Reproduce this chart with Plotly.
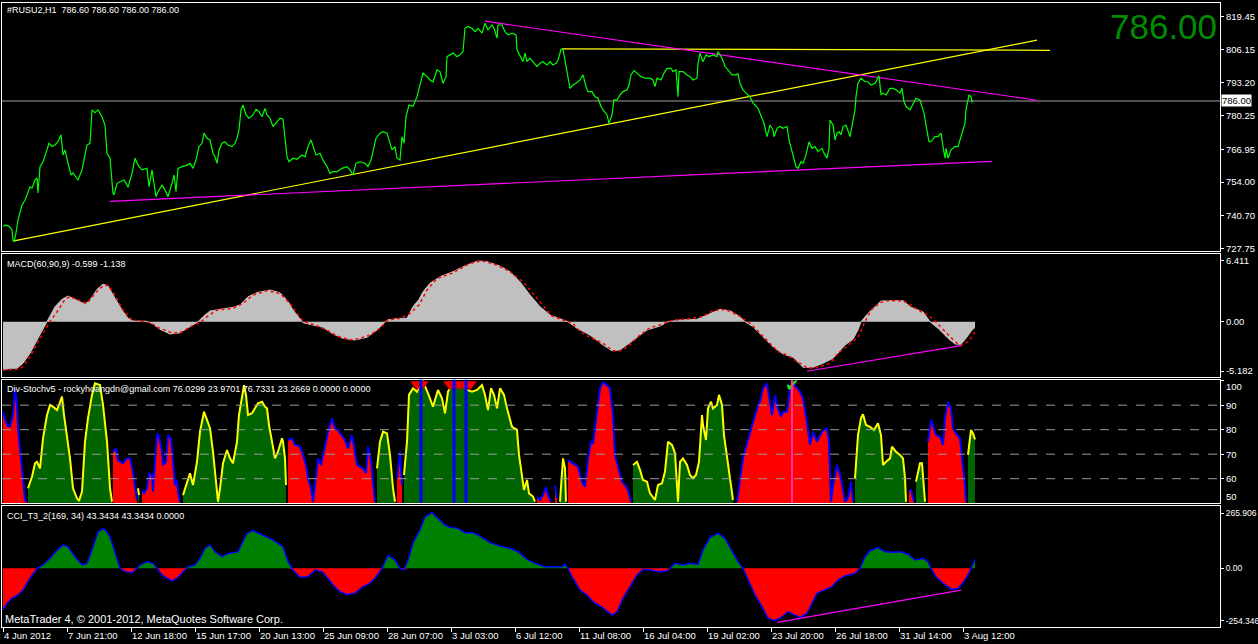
import plotly.graph_objects as go

# ---------------- DATA ----------------
# x = bar index (H1 bars), price chart close line
PRICE_BAR = [
    0, 2, 6, 9, 10, 11, 13, 15, 19, 22,
    24, 27, 29, 32, 34, 35, 37, 40, 44, 46,
    49, 52, 55, 58, 60, 62, 65, 68, 70, 73,
    75, 79, 81, 84, 87, 89, 92, 95, 99, 102,
    104, 107, 110, 111, 114, 117, 121, 124, 125, 129,
    132, 135, 139, 144, 146, 149, 151, 153, 155, 159,
    162, 165, 169, 171, 173, 175, 179, 184, 187, 190,
    193, 196, 199, 201, 204, 207, 210, 212, 214, 216,
    219, 222, 225, 229, 232, 234, 236, 238, 240, 243,
    246, 250, 253, 256, 259, 262, 264, 267, 270, 274,
    277, 280, 282, 284, 286, 290, 294, 299, 302, 305,
    308, 310, 313, 317, 320, 324, 327, 330, 334, 339,
    344, 347, 350, 353, 357, 362, 365, 368, 370, 373,
    377, 380, 384, 386, 389, 392, 394, 397, 399, 401,
    403, 406, 410, 414, 416, 417, 420, 424, 427, 430,
    434, 437, 440, 443, 444, 447, 450, 454, 457, 460,
    462, 465, 469, 472, 475, 479, 482, 485, 489, 491,
    494, 495, 499, 502, 505, 509, 513, 514, 517, 520,
    522, 524, 527, 530, 534, 537, 540, 544, 547, 550,
    553, 555, 558, 560, 563, 565, 567, 570, 573, 577,
    580, 583, 585, 589, 592, 595, 598, 600, 604, 606,
    609, 611, 614, 617, 620, 624, 626, 628, 631, 634,
    638, 642, 647, 650, 652, 654, 658, 661, 664, 668,
    670, 673, 675, 676, 680, 684, 687, 690, 694, 695,
    697, 700, 703, 706, 710, 714, 715, 719, 722, 725,
    729, 733, 735, 737, 740, 743, 747, 750, 755, 759,
    761, 764, 767, 770, 771, 774, 777, 780, 784, 786,
    789, 791, 793, 795, 798, 800, 803, 806, 809, 812,
    815, 819, 821, 824, 826, 827, 830, 832, 834, 836,
    838, 840, 843, 847, 849, 852, 853, 855, 858, 862,
    865, 868, 872, 874, 876, 878, 880, 883, 887, 890,
    893, 897, 899, 901, 903, 907, 910, 913, 917, 919,
    921, 923, 926, 928, 932, 935, 938, 940, 942, 943,
    945, 948, 952, 955, 957, 959, 962, 963, 966, 968,
    969, 970,
]
PRICE_CLOSE = [
    736.4, 737.0, 736.6, 735.1, 731.1, 730.4, 733.9, 739.0, 744.9, 746.9,
    748.9, 752.2, 751.6, 754.8, 755.6, 749.7, 760.1, 762.0, 766.7, 769.4,
    768.0, 768.6, 769.9, 772.6, 764.7, 766.7, 761.5, 756.8, 757.6, 756.1,
    754.8, 758.8, 762.7, 768.6, 769.3, 782.5, 781.4, 782.5, 779.8, 776.5,
    765.3, 763.4, 749.5, 748.9, 753.5, 754.1, 754.8, 752.8, 751.9, 757.4,
    763.4, 760.7, 758.8, 759.4, 752.2, 758.8, 753.5, 748.2, 750.2, 752.8,
    750.9, 748.2, 753.5, 756.8, 750.2, 759.4, 760.1, 760.7, 761.4, 759.4,
    762.7, 768.0, 769.3, 773.3, 771.3, 770.6, 765.4, 764.0, 761.4, 766.7,
    769.3, 769.9, 768.6, 768.0, 769.3, 771.3, 774.6, 782.5, 784.4, 780.5,
    779.2, 780.5, 782.7, 781.8, 779.8, 783.1, 780.5, 779.2, 775.9, 777.8,
    779.2, 778.8, 771.9, 764.0, 762.0, 763.4, 763.0, 764.7, 764.0, 768.0,
    770.6, 768.0, 764.7, 765.4, 762.7, 760.1, 757.4, 758.1, 758.1, 759.4,
    760.1, 758.8, 756.8, 761.4, 762.0, 761.4, 760.1, 762.7, 766.7, 771.3,
    773.3, 773.9, 773.3, 770.6, 766.7, 768.0, 763.4, 762.7, 771.9, 769.3,
    779.8, 784.4, 783.8, 787.7, 791.0, 791.7, 797.0, 795.6, 794.3, 793.6,
    798.3, 797.6, 793.0, 795.6, 803.5, 804.2, 804.9, 803.5, 804.2, 805.5,
    814.7, 815.4, 814.7, 813.4, 814.7, 812.8, 816.7, 814.1, 816.0, 814.7,
    810.8, 816.0, 816.0, 813.4, 812.1, 812.8, 812.1, 806.2, 803.5, 801.5,
    804.9, 801.5, 802.9, 801.5, 799.6, 800.9, 801.5, 800.2, 801.5, 800.2,
    800.9, 802.2, 806.4, 806.4, 799.6, 794.3, 791.0, 792.3, 793.0, 794.3,
    796.3, 791.7, 789.7, 789.7, 787.7, 787.1, 783.8, 782.5, 780.5, 777.2,
    780.5, 786.4, 786.4, 788.4, 789.7, 790.4, 792.3, 796.3, 798.0, 797.0,
    795.6, 795.0, 795.0, 794.3, 791.7, 795.0, 794.3, 797.0, 798.9, 798.9,
    797.6, 798.3, 787.7, 797.6, 797.6, 796.3, 795.6, 794.3, 795.0, 800.9,
    804.9, 801.5, 804.2, 803.5, 804.2, 803.5, 805.5, 802.9, 799.6, 798.3,
    796.3, 796.3, 796.7, 793.0, 790.4, 789.1, 787.7, 785.1, 783.1, 779.2,
    777.2, 771.9, 776.5, 774.6, 771.9, 775.2, 775.9, 775.2, 775.9, 770.6,
    766.0, 764.0, 760.1, 759.4, 762.0, 761.4, 764.7, 769.9, 767.3, 768.0,
    766.0, 767.3, 765.4, 763.4, 767.3, 778.5, 776.5, 770.6, 773.3, 773.9,
    772.6, 775.9, 776.5, 771.9, 775.9, 782.5, 787.7, 793.0, 795.0, 793.6,
    793.6, 792.3, 793.0, 794.3, 795.9, 788.4, 789.1, 788.4, 791.0, 791.0,
    790.4, 789.1, 791.0, 785.7, 783.8, 782.5, 785.1, 787.1, 786.4, 783.8,
    781.2, 776.5, 769.9, 769.9, 771.9, 771.9, 773.3, 768.0, 763.4, 767.3,
    763.4, 766.7, 768.0, 768.0, 770.6, 773.9, 777.2, 782.5, 788.4, 787.7,
    785.7, 786.0,
]
LAST_PRICE = 786.00

# trend lines drawn on the price chart (bar, price) endpoints
TREND_START_BAR = [11, 559, 482, 107]
TREND_START_PRICE = [730.8, 806.6, 817.5, 746.4]
TREND_END_BAR = [1034, 1047, 1034, 989]
TREND_END_PRICE = [810.0, 806.0, 786.3, 762.2]

PRICE_TICKS = [819.45, 806.15, 793.20, 780.25, 766.95, 754.00, 740.70, 727.75]

# MACD(60,90,9)
MACD_BAR = [
    0, 7, 14, 20, 27, 34, 40, 44, 47, 52,
    59, 65, 72, 82, 87, 94, 100, 105, 112, 119,
    125, 130, 144, 150, 157, 167, 177, 187, 195, 200,
    207, 217, 230, 237, 245, 255, 267, 277, 284, 290,
    297, 300, 310, 320, 330, 340, 352, 364, 374, 384,
    397, 404, 410, 416, 420, 427, 437, 450, 464, 475,
    484, 497, 507, 517, 527, 537, 547, 557, 565, 574,
    587, 600, 609, 617, 630, 644, 657, 665, 677, 694,
    704, 717, 727, 737, 742, 750, 760, 770, 780, 790,
    800, 810, 820, 830, 835, 842, 850, 855, 858, 865,
    872, 878, 892, 900, 908, 920, 927, 935, 945, 952,
    958, 963, 969, 972,
]
MACD_MAIN = [
    -5.08, -4.9, -4.9, -4.37, -3.32, -1.92, -0.69, 0, 0.70, 1.58,
    2.35, 2.70, 2.35, 1.83, 2.28, 3.40, 3.96, 3.75, 2.46, 1.23,
    0.36, 0.07, 0.05, -0.24, -0.80, -1.29, -1.16, -0.53, 0, 0.53,
    1.12, 1.30, 1.51, 1.76, 2.63, 3.09, 3.33, 3.05, 2.28, 1.23,
    0.25, -0.1, -0.35, -0.59, -1.29, -1.75, -1.92, -1.64, -0.87, 0.18,
    0.36, 0.36, 1.58, 2.35, 3.15, 4.04, 4.73, 5.26, 5.96, 6.38,
    6.31, 5.85, 5.26, 4.20, 2.81, 1.58, 0.70, 0.28, 0, -0.69,
    -1.40, -2.45, -3.05, -2.97, -1.92, -0.87, -0.45, 0, 0.18, 0.25,
    0.70, 1.30, 1.16, 0.53, 0, -0.53, -1.58, -2.63, -3.39, -3.74,
    -4.79, -4.79, -4.37, -3.85, -3.3, -2.45, -1.85, -0.87, 0, 0.88,
    1.58, 2.18, 2.21, 2.21, 1.51, 1.05, 0, -0.69, -1.75, -2.34,
    -2.38, -1.75, -0.87, -0.60,
]
SIGNAL_BAR = [
    0, 14, 20, 27, 35, 42, 47, 54, 62, 67,
    75, 84, 92, 99, 105, 112, 120, 129, 137, 147,
    157, 170, 179, 189, 197, 204, 214, 230, 240, 250,
    264, 277, 287, 294, 300, 312, 324, 334, 347, 357,
    367, 377, 385, 397, 407, 416, 424, 434, 449, 467,
    479, 494, 507, 520, 530, 540, 549, 560, 569, 577,
    587, 599, 610, 617, 625, 635, 647, 660, 670, 684,
    699, 710, 722, 735, 747, 754, 764, 775, 784, 794,
    805, 817, 827, 835, 848, 855, 862, 868, 877, 885,
    900, 907, 915, 925, 932, 942, 952, 958, 965, 972,
]
MACD_SIGNAL = [
    -5.08, -5.0, -4.73, -3.68, -2.10, -0.87, 0, 1.05, 2.35, 2.63,
    2.28, 1.93, 2.98, 3.68, 3.86, 2.81, 1.23, 0.18, 0.07, -0.1,
    -0.69, -1.22, -1.05, -0.45, -0.1, 0.53, 1.23, 1.41, 1.93, 2.81,
    3.26, 2.98, 1.93, 0.88, 0.07, -0.35, -0.87, -1.50, -1.92, -1.75,
    -1.40, -0.69, 0.18, 0.36, 0.88, 1.76, 3.33, 4.56, 5.09, 6.14,
    6.41, 5.96, 5.26, 4.20, 2.98, 1.76, 0.60, 0.18, -0.1, -1.05,
    -1.64, -2.21, -3.05, -3.05, -2.63, -1.58, -0.63, -0.24, 0.18, 0.28,
    0.53, 1.16, 1.30, 0.70, -0.17, -0.87, -2.00, -3.15, -3.50, -4.20,
    -4.90, -4.73, -4.37, -3.32, -2.27, -1.64, 0, 1.23, 2.0, 2.21,
    2.21, 1.83, 1.23, 0.70, 0.07, -1.05, -2.10, -2.52, -2.10, -1.14,
]
MACD_DIV_BAR = [804, 958]
MACD_DIV_VAL = [-5.21, -2.52]
MACD_TICKS = [6.411, 0.0, -5.182]
MACD_TICK_TEXT = ["6.411", "0.00", "-5.182"]

# Div-Stochv5 : value and state (G = rising/green, R = falling/red)
STO_BAR = [
    0, 4, 7, 10, 12, 14, 15, 18, 20, 22,
    24, 25, 29, 32, 34, 37, 40, 44, 47, 50,
    54, 56, 59, 61, 64, 67, 70, 74, 76, 79,
    82, 85, 89, 92, 97, 100, 104, 107, 109, 110,
    113, 115, 120, 124, 127, 130, 132, 134, 135, 136,
    139, 141, 144, 146, 149, 150, 152, 154, 156, 159,
    160, 163, 165, 168, 170, 172, 174, 175, 177, 180,
    184, 187, 190, 194, 197, 201, 204, 207, 210, 212,
    214, 215, 217, 220, 224, 227, 230, 234, 236, 239,
    241, 243, 245, 249, 252, 255, 259, 262, 264, 266,
    269, 272, 275, 279, 280, 282, 283, 285, 289, 292,
    297, 300, 303, 305, 308, 310, 312, 315, 318, 320,
    323, 326, 329, 332, 335, 339, 342, 345, 349, 352,
    354, 357, 360, 363, 365, 368, 370, 372, 374, 377,
    380, 384, 387, 390, 392, 394, 397, 399, 401, 404,
    406, 410, 414, 417, 420, 425, 430, 435, 439, 442,
    445, 449, 452, 457, 464, 469, 474, 479, 482, 485,
    488, 491, 494, 497, 501, 504, 509, 514, 516, 519,
    521, 524, 526, 530, 532, 534, 537, 540, 543, 545,
    548, 549, 552, 554, 557, 560, 562, 563, 565, 570,
    575, 579, 582, 585, 588, 590, 594, 597, 600, 604,
    607, 610, 612, 615, 619, 622, 625, 628, 630, 634,
    637, 640, 644, 647, 652, 655, 659, 662, 665, 669,
    672, 674, 675, 677, 680, 684, 687, 690, 693, 696,
    699, 700, 703, 705, 708, 710, 714, 716, 719, 721,
    724, 727, 730, 734, 737, 740, 744, 749, 754, 757,
    760, 764, 767, 769, 772, 775, 778, 780, 784, 787,
    790, 793, 797, 800, 804, 807, 810, 814, 817, 821,
    824, 826, 828, 830, 834, 838, 840, 842, 845, 848,
    850, 852, 855, 858, 860, 863, 867, 871, 875, 878,
    880, 883, 887, 889, 893, 897, 900, 902, 903, 906,
    908, 911, 913, 917, 919, 921, 922, 925, 928, 930,
    933, 937, 940, 942, 945, 948, 950, 953, 957, 959,
    962, 963, 965, 968, 970, 972,
]
STO_VALUE = [
    87.3, 81.9, 81.2, 86.0, 96.9, 90.1, 80.6, 68.3, 57.4, 51.3,
    50.6, 56.1, 60.8, 66.3, 66.9, 64.2, 76.5, 86.0, 90.1, 89.4,
    88.0, 90.1, 93.5, 86.0, 77.8, 68.3, 56.1, 52.0, 50.9, 54.7,
    75.1, 84.7, 94.2, 98.9, 98.2, 90.1, 75.1, 56.1, 50.6, 71.0,
    72.4, 67.6, 66.3, 68.3, 68.3, 62.9, 56.1, 51.3, 56.1, 53.3,
    55.4, 54.0, 56.1, 62.2, 61.5, 54.7, 66.9, 78.5, 77.1, 71.0,
    65.6, 66.9, 77.8, 76.5, 67.6, 57.4, 59.5, 54.7, 50.6, 53.3,
    58.8, 62.2, 57.4, 66.9, 79.2, 87.3, 84.0, 80.6, 71.0, 61.5,
    52.0, 50.6, 56.1, 66.3, 71.7, 68.3, 66.3, 75.1, 86.0, 94.2,
    98.2, 94.2, 86.0, 86.7, 88.7, 90.8, 91.4, 89.4, 88.7, 81.9,
    75.1, 68.3, 71.0, 76.5, 75.1, 68.3, 57.4, 75.8, 76.5, 73.8,
    73.1, 69.7, 65.6, 60.2, 56.1, 50.6, 57.4, 68.3, 65.6, 69.7,
    75.1, 80.6, 84.7, 80.6, 79.9, 77.8, 75.8, 72.4, 77.8, 71.0,
    65.6, 64.9, 64.2, 62.2, 73.1, 67.6, 58.8, 50.6, 64.2, 75.1,
    79.2, 78.5, 69.7, 56.1, 50.6, 60.2, 71.0, 57.4, 61.5, 75.1,
    94.2, 96.9, 95.5, 98.9, 99.6, 94.9, 89.4, 96.2, 92.8, 86.7,
    95.5, 98.2, 98.2, 98.9, 96.2, 95.5, 96.2, 98.2, 94.2, 88.0,
    96.9, 94.2, 88.7, 96.9, 94.2, 88.7, 81.2, 79.9, 69.7, 60.2,
    55.4, 59.5, 54.0, 52.7, 50.6, 52.7, 51.3, 53.3, 56.7, 53.3,
    50.6, 52.7, 57.4, 52.0, 50.6, 68.3, 64.2, 50.6, 67.6, 66.3,
    64.9, 58.8, 56.7, 68.3, 75.1, 74.5, 87.3, 96.9, 99.3, 98.2,
    96.9, 86.0, 69.7, 64.9, 58.8, 57.4, 55.4, 50.6, 65.6, 66.9,
    63.6, 59.5, 58.8, 54.0, 51.3, 57.4, 58.1, 62.9, 75.1, 73.8,
    70.4, 57.4, 50.6, 66.9, 68.3, 65.6, 61.5, 60.2, 61.5, 66.9,
    86.0, 81.9, 75.8, 88.7, 91.4, 88.7, 90.1, 94.2, 90.1, 77.8,
    68.3, 58.8, 51.3, 50.6, 58.8, 68.3, 74.5, 81.9, 88.7, 91.4,
    96.9, 98.9, 91.4, 86.0, 94.2, 88.7, 85.3, 87.3, 87.3, 96.9,
    98.9, 97.6, 95.5, 92.8, 83.3, 73.8, 79.2, 75.1, 77.8, 79.9,
    80.6, 75.1, 50.6, 57.4, 65.6, 60.2, 54.7, 50.6, 52.0, 58.8,
    50.6, 60.2, 77.8, 84.7, 86.3, 81.9, 81.2, 79.9, 82.6, 77.8,
    65.6, 66.9, 68.3, 73.1, 71.0, 69.7, 68.3, 60.2, 50.6, 55.4,
    55.4, 50.6, 58.8, 66.3, 66.3, 57.4, 50.6, 75.1, 84.0, 81.9,
    77.8, 77.1, 73.8, 84.7, 91.4, 88.7, 80.6, 78.5, 76.5, 68.3,
    57.4, 50.6, 69.7, 79.9, 78.5, 76.0,
]
STO_STATE = (
    "RRRRRRRRRR" "RGGGGGGGGG" "GGGGGGGGGG" "GGGGGGGGGR" "RRRRRRRRGG"
    "RRRRRRRRRR" "RRRRRRRRRG" "GGGGGGGGGG" "GGGGGGGGGG" "GGGGGGGGGG"
    "GGGGGGGRRR" "RRRRRRRRRR" "RRRRRRRRRR" "RRRRRRRRGG" "GGGGGRRRGG"
    "GGGGGGGGGG" "GGGGGGGGGG" "GGGGGGGGGG" "GGGGGRRRRR" "RGRRGGGGRR"
    "RRRRRRRRRR" "RRRRRRRRGG" "GGGGGGGGGG" "GGGGGGGGGG" "GGGGGGGGGG"
    "GGGRRRRRRR" "RRRRRRRRRR" "RRRRRRRRRR" "RRRRRRRRRR" "RGGGGGGGGG"
    "GGGGGGGGGR" "RRGGGGGRRR" "RRRRRRRRRR" "RRGGGG"
)
STO_LEVELS = [60, 70, 80, 90]
STO_TICKS = [100, 90, 80, 70, 60, 50]
STO_BLUE_BARS = [418, 451, 463]
STO_PINK_BARS = [789]
STO_ARROW_BAR = [414, 419, 447, 452, 457, 462, 467]
STO_ARROW_VAL = [98.5, 98.5, 98.5, 98.5, 98.5, 98.5, 98.5]
STO_CHECK_BAR = [789]
STO_CHECK_VAL = [97.5]

# CCI_T3_2(169,34)
CCI_BAR = [
    0, 4, 9, 15, 20, 27, 34, 40, 47, 54,
    60, 65, 72, 79, 84, 89, 95, 101, 107, 112,
    117, 122, 129, 134, 137, 144, 150, 154, 159, 164,
    169, 174, 180, 185, 192, 197, 202, 207, 212, 219,
    225, 235, 239, 244, 250, 260, 270, 280, 285, 290,
    297, 305, 312, 319, 325, 330, 337, 344, 352, 359,
    367, 372, 379, 385, 392, 397, 401, 405, 410, 416,
    417, 422, 429, 435, 442, 447, 455, 462, 470, 477,
    487, 497, 507, 515, 524, 532, 542, 554, 559, 562,
    565, 570, 577, 584, 590, 599, 609, 614, 620, 627,
    634, 640, 647, 657, 664, 667, 672, 680, 687, 695,
    700, 707, 715, 722, 729, 735, 740, 745, 752, 759,
    765, 772, 779, 785, 792, 797, 804, 809, 814, 820,
    829, 835, 842, 852, 857, 862, 867, 875, 882, 890,
    898, 905, 912, 920, 925, 928, 933, 940, 948, 955,
    960, 965, 968, 972,
]
CCI_VALUE = [
    -201, -169, -145, -129, -105, -48, 0, 16, 48, 88,
    113, 104, 56, 16, 24, 88, 177, 193, 153, 72,
    0, -16, -21, 0, 16, 32, 24, 0, -32, -48,
    -61, -48, -16, 8, 16, 48, 97, 113, 80, 56,
    72, 80, 121, 169, 182, 161, 137, 104, 32, -8,
    -43, -41, -8, -16, -48, -81, -113, -126, -121, -92,
    -72, -48, 0, 64, 40, 0, -8, 40, 121, 177,
    185, 249, 269, 241, 209, 198, 193, 172, 172, 156,
    124, 108, 97, 80, 43, 24, 8, 8, 8, 19,
    0, -48, -105, -129, -161, -188, -226, -210, -145, -89,
    -32, -5, -8, -16, -12, 0, 24, 16, 24, 19,
    88, 150, 169, 145, 80, 32, 0, -56, -129, -185,
    -241, -253, -234, -210, -226, -237, -217, -169, -121, -108,
    -89, -56, -37, -24, 0, 56, 85, 100, 80, 77,
    80, 68, 40, 48, 32, 0, -41, -72, -101, -97,
    -70, -32, 0, 43,
]
CCI_DIV_BAR = [774, 958]
CCI_DIV_VAL = [-261, -105]
CCI_TICKS = [265.906, 0.0, -254.346]
CCI_TICK_TEXT = ["265.906", "0.00", "-254.346"]

X_TICK_BARS = [0, 64, 128, 192, 256, 320, 384, 448, 512, 576, 640, 704, 768, 832, 896, 960]
X_TICK_LABELS = ["4 Jun 2012", "7 Jun 21:00", "12 Jun 18:00", "15 Jun 17:00", "20 Jun 13:00",
                 "25 Jun 09:00", "28 Jun 07:00", "3 Jul 03:00", "6 Jul 12:00", "11 Jul 08:00",
                 "16 Jul 04:00", "19 Jul 02:00", "23 Jul 20:00", "26 Jul 18:00", "31 Jul 14:00",
                 "3 Aug 12:00"]

PRICE_HEADER = "#RUSU2,H1\u00a0\u00a0786.60 786.60 786.00 786.00"
MACD_HEADER = "MACD(60,90,9) -0.599 -1.138"
STO_HEADER = "Div-Stochv5 - rockyhoangdn@gmail.com 76.0299 23.9701 76.7331 23.2669 0.0000 0.0000"
CCI_HEADER = "CCI_T3_2(169, 34) 43.3434 43.3434 0.0000"
COPYRIGHT = "MetaTrader 4, \u00a9 2001-2012, MetaQuotes Software Corp."

# ---------------- STYLE / LAYOUT ----------------
W, H = 1258, 644
FONT = "Liberation Sans"
TXT = "#FFFFFF"
XL, XR = 2, 1220
PANELS = [(2.7, 250.7), (254.0, 376.7), (379.7, 503.0), (505.7, 627.0)]
RANGES = [[726.9, 824.8], [-5.78, 7.12], [50.08, 100.4], [-283.5, 302.4]]
TREND_COLORS = ["#FFFF00", "#FFFF00", "#FF00FF", "#FF00FF"]


def ydom(t, b):
    return [1 - b / H, 1 - t / H]


fig = go.Figure()

# --- price panel ---
for i in range(len(TREND_START_BAR)):
    fig.add_trace(go.Scatter(x=[TREND_START_BAR[i], TREND_END_BAR[i]],
                             y=[TREND_START_PRICE[i], TREND_END_PRICE[i]],
                             mode="lines", line=dict(color=TREND_COLORS[i], width=1.2),
                             xaxis="x", yaxis="y", hoverinfo="skip"))
fig.add_trace(go.Scatter(x=PRICE_BAR, y=PRICE_CLOSE, mode="lines",
                         line=dict(color="#00FF00", width=1.2), xaxis="x", yaxis="y"))

# --- MACD panel ---
fig.add_trace(go.Scatter(x=MACD_BAR, y=MACD_MAIN, mode="lines", fill="tozeroy",
                         fillcolor="#C0C0C0", line=dict(color="#C0C0C0", width=1),
                         xaxis="x2", yaxis="y2"))
fig.add_trace(go.Scatter(x=SIGNAL_BAR, y=MACD_SIGNAL, mode="lines",
                         line=dict(color="#FF0000", width=1.5, dash="dot"),
                         xaxis="x2", yaxis="y2"))
fig.add_trace(go.Scatter(x=MACD_DIV_BAR, y=MACD_DIV_VAL, mode="lines",
                         line=dict(color="#FF00FF", width=1.2), xaxis="x2", yaxis="y2"))

# --- Stochastic panel ---
start = 0
n = len(STO_STATE)
for i in range(1, n + 1):
    if i == n or STO_STATE[i] != STO_STATE[start]:
        kind = STO_STATE[start]
        fig.add_trace(go.Scatter(
            x=STO_BAR[start:i], y=STO_VALUE[start:i], mode="lines", fill="tozeroy",
            fillcolor="#006400" if kind == "G" else "#FF0000",
            line=dict(color="#FFFF00" if kind == "G" else "#0000FF", width=2),
            xaxis="x3", yaxis="y3"))
        start = i
fig.add_trace(go.Scatter(x=STO_ARROW_BAR, y=STO_ARROW_VAL, mode="markers",
                         marker=dict(symbol="triangle-down", size=11, color="#FF0000",
                                     line=dict(color="#C00000", width=1)),
                         xaxis="x3", yaxis="y3"))
fig.add_trace(go.Scatter(x=STO_CHECK_BAR, y=STO_CHECK_VAL, mode="text", text=["\u2714"],
                         textfont=dict(color="#22DD22", size=17, family="DejaVu Sans"),
                         xaxis="x3", yaxis="y3"))

# --- CCI panel ---
fig.add_trace(go.Scatter(x=CCI_BAR, y=[max(v, 0) for v in CCI_VALUE], mode="lines",
                         fill="tozeroy", fillcolor="#008000", line=dict(width=0),
                         xaxis="x4", yaxis="y4"))
fig.add_trace(go.Scatter(x=CCI_BAR, y=[min(v, 0) for v in CCI_VALUE], mode="lines",
                         fill="tozeroy", fillcolor="#FF0000", line=dict(width=0),
                         xaxis="x4", yaxis="y4"))
fig.add_trace(go.Scatter(x=CCI_BAR, y=CCI_VALUE, mode="lines",
                         line=dict(color="#0000FF", width=1.5), xaxis="x4", yaxis="y4"))
fig.add_trace(go.Scatter(x=CCI_DIV_BAR, y=CCI_DIV_VAL, mode="lines",
                         line=dict(color="#FF00FF", width=1.2), xaxis="x4", yaxis="y4"))

# shapes
shapes = [dict(type="line", xref="x domain", x0=0, x1=1, yref="y", y0=LAST_PRICE, y1=LAST_PRICE,
               line=dict(color="#A0A0A0", width=1), layer="below")]
for lv in STO_LEVELS:
    shapes.append(dict(type="line", xref="x3 domain", x0=0, x1=1, yref="y3", y0=lv, y1=lv,
                       line=dict(color="#9A9A9A", width=1, dash="dash"), layer="above"))
for b in STO_BLUE_BARS:
    shapes.append(dict(type="line", xref="x3", x0=b, x1=b, yref="y3 domain", y0=0, y1=1,
                       line=dict(color="#0000FF", width=3)))
for b in STO_PINK_BARS:
    shapes.append(dict(type="line", xref="x3", x0=b, x1=b, yref="y3 domain", y0=0, y1=1,
                       line=dict(color="#FF3399", width=2)))

tickfont = dict(family=FONT, size=9.5, color=TXT)
xcommon = dict(domain=[XL / W, XR / W], range=[-1, 1217], showgrid=False, zeroline=False,
               showline=True, mirror=True, linecolor="#FFFFFF", linewidth=1, fixedrange=True)
ycommon = dict(side="right", showgrid=False, zeroline=False, showline=True, mirror=True,
               linecolor="#FFFFFF", linewidth=1, ticks="outside", ticklen=3,
               tickcolor="#FFFFFF", tickfont=tickfont, tickmode="array", fixedrange=True,
               automargin=False)

layout = dict(
    width=W, height=H, margin=dict(l=0, r=0, t=0, b=0),
    paper_bgcolor="#000000", plot_bgcolor="#000000", showlegend=False,
    hovermode=False,
    xaxis=dict(**xcommon, anchor="y", showticklabels=False),
    xaxis2=dict(**xcommon, anchor="y2", showticklabels=False),
    xaxis3=dict(**xcommon, anchor="y3", showticklabels=False),
    xaxis4=dict(**xcommon, anchor="y4", tickmode="array", tickvals=X_TICK_BARS,
                ticktext=X_TICK_LABELS, ticks="outside", ticklen=4, tickcolor="#FFFFFF",
                ticklabelposition="outside right", tickangle=0, tickfont=tickfont,
                automargin=False),
    yaxis=dict(**ycommon, domain=ydom(*PANELS[0]), range=RANGES[0], anchor="x",
               tickvals=PRICE_TICKS, ticktext=["%.2f" % v for v in PRICE_TICKS]),
    yaxis2=dict(**ycommon, domain=ydom(*PANELS[1]), range=RANGES[1], anchor="x2",
                tickvals=MACD_TICKS, ticktext=MACD_TICK_TEXT),
    yaxis3=dict(**ycommon, domain=ydom(*PANELS[2]), range=RANGES[2], anchor="x3",
                tickvals=STO_TICKS, ticktext=["", "90", "80", "70", "60", ""]),
    yaxis4=dict(**ycommon, domain=ydom(*PANELS[3]), range=RANGES[3], anchor="x4",
                tickvals=CCI_TICKS, ticktext=CCI_TICK_TEXT),
    shapes=shapes,
)
fig.update_layout(**layout)
fig.update_layout(yaxis4_tickfont=dict(family=FONT, size=8.5, color=TXT))


def ann(text, xpx, ypx, size=9, color=TXT, xanchor="left", **kw):
    fig.add_annotation(text=text, xref="paper", yref="paper", x=xpx / W, y=1 - ypx / H,
                       xanchor=xanchor, yanchor="middle", showarrow=False,
                       font=dict(family=FONT, size=size, color=color), **kw)


ann(PRICE_HEADER, 5, 10)
ann(MACD_HEADER, 5, 263.5)
ann(STO_HEADER, 5, 389)
ann(CCI_HEADER, 5, 515.5)
ann(COPYRIGHT, 3, 619, size=11)
ann("786.00", 1219, 27, size=35, color="#008C00", xanchor="right")
ann("100", 1224, 386.5, size=9.5)
ann("50", 1224, 496.5, size=9.5)
fig.add_annotation(text="786.00", xref="paper", yref="y", x=1221 / W, y=LAST_PRICE,
                   xanchor="left", yanchor="middle", showarrow=False, bgcolor="#FFFFFF",
                   borderpad=0, font=dict(family=FONT, size=9.5, color="#000000"))

fig.write_html("out.html", config={"displayModeBar": False},
               post_script="document.body.style.margin='0';document.body.style.padding='0';"
                           "document.body.style.overflow='hidden';")
